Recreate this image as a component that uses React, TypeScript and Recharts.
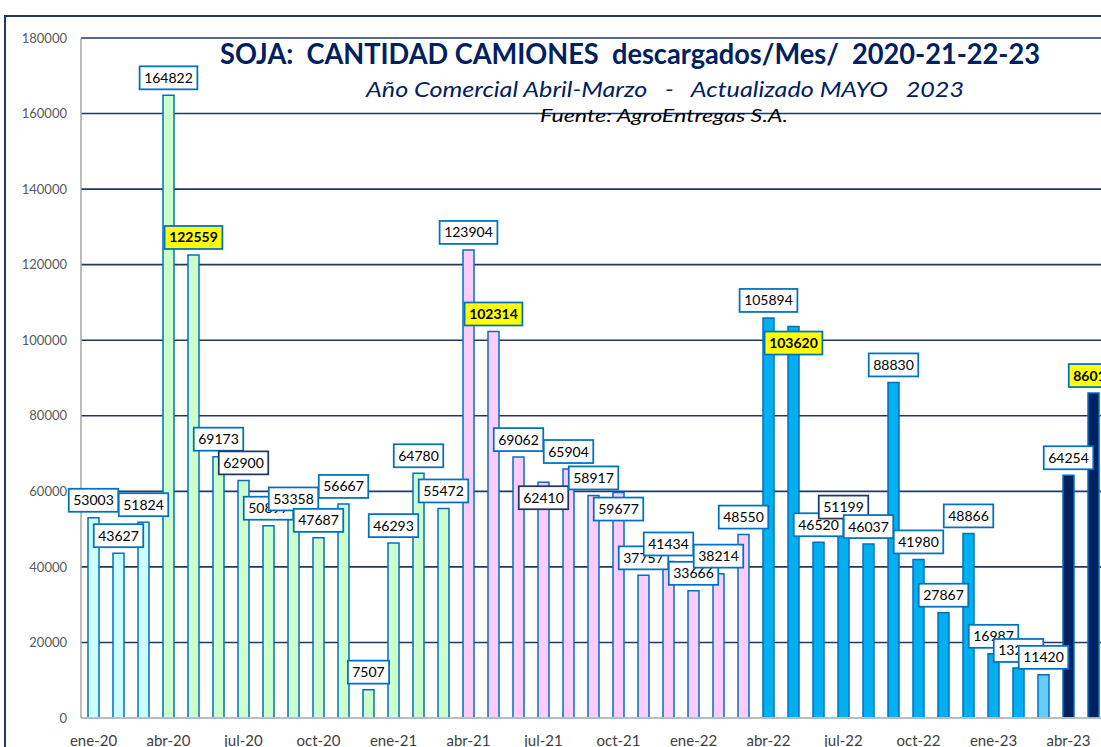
import { BarChart, Bar, XAxis, YAxis, CartesianGrid, Cell, LabelList } from "recharts";

const months = [
  "ene-20", "feb-20", "mar-20",
  "abr-20", "may-20", "jun-20", "jul-20", "ago-20", "sep-20", "oct-20", "nov-20", "dic-20", "ene-21", "feb-21", "mar-21",
  "abr-21", "may-21", "jun-21", "jul-21", "ago-21", "sep-21", "oct-21", "nov-21", "dic-21", "ene-22", "feb-22", "mar-22",
  "abr-22", "may-22", "jun-22", "jul-22", "ago-22", "sep-22", "oct-22", "nov-22", "dic-22", "ene-23", "feb-23", "mar-23",
  "abr-23", "may-23",
];

const camiones = [
  53003, 43627, 51824,
  164822, 122559, 69173, 62900, 50897, 53358, 47687, 56667, 7507, 46293, 64780, 55472,
  123904, 102314, 69062, 62410, 65904, 58917, 59677, 37757, 41434, 33666, 38214, 48550,
  105894, 103620, 46520, 51199, 46037, 88830, 41980, 27867, 48866, 16987, 13245, 11420,
  64254, 86012,
];

const campaign = [
  "19/20", "19/20", "19/20",
  "20/21", "20/21", "20/21", "20/21", "20/21", "20/21", "20/21", "20/21", "20/21", "20/21", "20/21", "20/21",
  "21/22", "21/22", "21/22", "21/22", "21/22", "21/22", "21/22", "21/22", "21/22", "21/22", "21/22", "21/22",
  "22/23", "22/23", "22/23", "22/23", "22/23", "22/23", "22/23", "22/23", "22/23", "22/23", "22/23", "22/23",
  "23/24", "23/24",
];

const yTicks = [0, 20000, 40000, 60000, 80000, 100000, 120000, 140000, 160000, 180000];

// styles
const campaignFill: Record<string, string> = {
  "19/20": "#CCFFFF",
  "20/21": "#CCFFCC",
  "21/22": "#FFCCFF",
  "22/23": "#00B0F0",
  "23/24": "#002060",
};
const fillOverride: Record<number, string> = { 38: "#66CCFF" };
const yellowLabels = [4, 16, 28, 40];
const darkBorderLabels = [6, 18, 30];
const labelShift: Record<number, number> = { 18: 33, 21: 34, 28: 34 };

const data = months.map((m, i) => ({ mes: m, valor: camiones[i], campaña: campaign[i] }));

function ValueLabel(props: any) {
  const { x, y, width, value, index } = props;
  const cx = Number(x) + Number(width) / 2;
  const txt = String(value);
  const w = txt.length * 8.3 + 8;
  const h = 23;
  const cy = Number(y) - 17.5 + (labelShift[index] ?? 0);
  const hl = yellowLabels.includes(index);
  return (
    <g>
      <rect
        x={cx - w / 2}
        y={cy - h / 2}
        width={w}
        height={h}
        fill={hl ? "#FFFF00" : "#FFFFFF"}
        stroke={darkBorderLabels.includes(index) ? "#1F3864" : "#0070C0"}
        strokeWidth={1.75}
      />
      <text
        x={cx}
        y={cy + 5}
        textAnchor="middle"
        fontSize={14}
        fontWeight={hl ? 700 : 400}
        fontFamily="Lato, sans-serif"
        fill="#000"
      >
        {txt}
      </text>
    </g>
  );
}

export default function App() {
  return (
    <div
      style={{
        position: "absolute",
        left: 0,
        top: 0,
        width: 1101,
        height: 747,
        overflow: "hidden",
        background: "#fff",
        fontFamily: "Lato, sans-serif",
      }}
    >
      <div
        style={{
          position: "absolute",
          left: 4,
          top: 15,
          width: 1200,
          height: 800,
          border: "2px solid #1F3864",
        }}
      />
      <div style={{ position: "absolute", left: 0, top: 0 }}>
        <BarChart
          width={1106}
          height={760}
          data={data}
          margin={{ top: 38, right: 0, bottom: 0, left: 0 }}
          barCategoryGap={0}
        >
          <CartesianGrid vertical={false} stroke="#1F3864" strokeWidth={1.6} />
          <XAxis
            dataKey="mes"
            interval={2}
            height={42}
            tickSize={0}
            tickMargin={17}
            tick={{ fill: "#404040", fontSize: 15, fontFamily: "Lato, sans-serif" }}
            axisLine={{ stroke: "#D9D9D9", strokeWidth: 1.5 }}
          />
          <YAxis
            width={81}
            domain={[0, 180000]}
            ticks={yTicks}
            tickSize={0}
            tickMargin={14}
            tick={{ fill: "#595959", fontSize: 13, fontFamily: "Lato, sans-serif" }}
            axisLine={{ stroke: "#A6A6A6", strokeWidth: 1.5 }}
          />
          <Bar
            dataKey="valor"
            barSize={11}
            stroke="#0070C0"
            strokeWidth={1.5}
            isAnimationActive={false}
          >
            {data.map((d, i) => (
              <Cell key={d.mes} fill={fillOverride[i] ?? campaignFill[d.campaña]} />
            ))}
            <LabelList dataKey="valor" content={ValueLabel} />
          </Bar>
        </BarChart>
      </div>
      <svg
        width={1101}
        height={747}
        style={{ position: "absolute", left: 0, top: 0, pointerEvents: "none" }}
      >
        <text
          x={220}
          y={63.5}
          fontSize={28}
          fontWeight={700}
          fill="#002060"
          fontFamily="Lato, sans-serif"
          textLength={820}
          lengthAdjust="spacingAndGlyphs"
          style={{ whiteSpace: "pre" }}
        >
          {"SOJA:  CANTIDAD CAMIONES  descargados/Mes/  2020-21-22-23"}
        </text>
        <text
          x={366}
          y={96.5}
          fontSize={20.5}
          fontStyle="italic"
          fill="#002060"
          fontFamily="Lato, sans-serif"
          textLength={598}
          lengthAdjust="spacingAndGlyphs"
          style={{ whiteSpace: "pre" }}
        >
          {"Año Comercial Abril-Marzo   -   Actualizado MAYO   2023"}
        </text>
        <text
          x={540}
          y={122}
          fontSize={16.5}
          fontStyle="italic"
          fill="#000"
          fontFamily="Lato, sans-serif"
          textLength={248}
          lengthAdjust="spacingAndGlyphs"
        >
          Fuente: AgroEntregas S.A.
        </text>
      </svg>
    </div>
  );
}
